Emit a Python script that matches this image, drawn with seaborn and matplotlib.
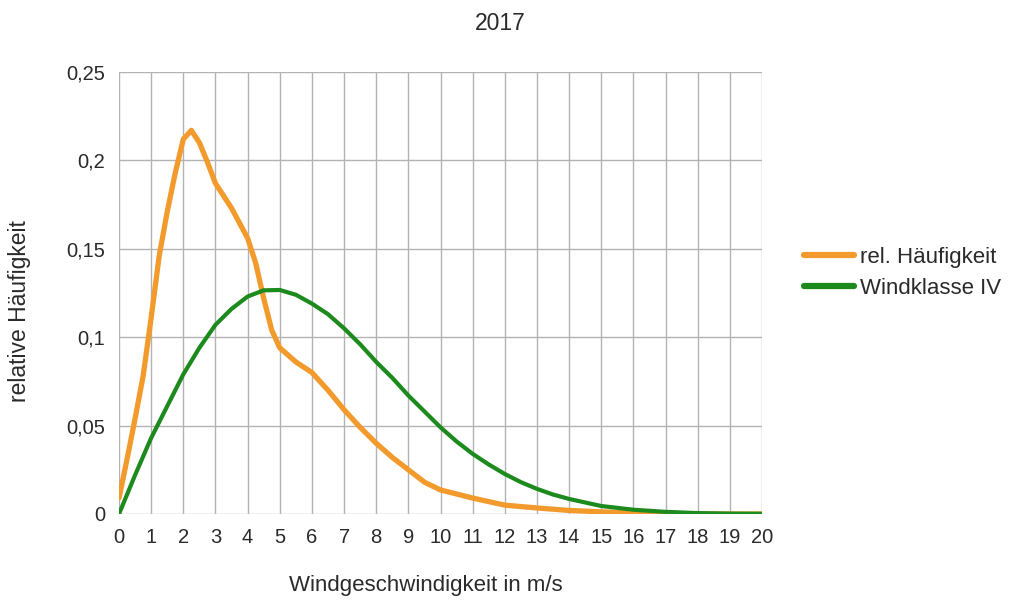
import matplotlib
matplotlib.use("Agg")
import matplotlib.pyplot as plt
import seaborn as sns
import pandas as pd
from matplotlib.ticker import FuncFormatter, MultipleLocator
from matplotlib.lines import Line2D

# ---- data ----
x_rel = [0, 0.25, 0.5, 0.75, 1.0, 1.25, 1.5, 1.75, 2.0, 2.25, 2.5, 2.75, 3.0, 3.5,
         4.0, 4.25, 4.5, 4.75, 5.0, 5.5, 6.0, 6.5, 7.0, 7.5, 8.0, 8.5, 9.0, 9.5,
         10, 11, 12, 13, 14, 15, 16, 17, 18, 19, 20]
y_rel = [0.009, 0.031, 0.054, 0.078, 0.111, 0.146, 0.171, 0.193, 0.212, 0.217, 0.210,
         0.199, 0.187, 0.173, 0.156, 0.142, 0.122, 0.104, 0.094, 0.086, 0.080, 0.070,
         0.059, 0.049, 0.040, 0.032, 0.025, 0.018, 0.0136, 0.009, 0.005, 0.0034,
         0.002, 0.0012, 0.0006, 0.0003, 0.0001, 0.0, 0.0]

x_wk = [0, 0.5, 1, 1.5, 2, 2.5, 3, 3.5, 4, 4.5, 5, 5.5, 6, 6.5, 7, 7.5, 8, 8.5, 9,
        9.5, 10, 10.5, 11, 11.5, 12, 12.5, 13, 13.5, 14, 15, 16, 17, 18, 19, 20]
y_wk = [0.0, 0.022, 0.043, 0.061, 0.079, 0.094, 0.107, 0.116, 0.123, 0.1265, 0.1267,
        0.124, 0.119, 0.113, 0.105, 0.096, 0.086, 0.077, 0.067, 0.058, 0.049, 0.041,
        0.034, 0.028, 0.0226, 0.018, 0.0142, 0.011, 0.0085, 0.0045, 0.0024, 0.0012,
        0.0005, 0.0002, 0.0001]

series_names = ["rel. Häufigkeit", "Windklasse IV"]
colors = ["#f29b2c", "#1c8a1c"]

df = pd.concat([
    pd.DataFrame({"x": x_rel, "y": y_rel, "Serie": series_names[0]}),
    pd.DataFrame({"x": x_wk, "y": y_wk, "Serie": series_names[1]}),
], ignore_index=True)

sns.set_theme(style="white")
plt.rcParams["font.family"] = ["Liberation Sans", "DejaVu Sans"]

fig = plt.figure(figsize=(10.12, 6.01), dpi=100)
ax = fig.add_axes([0.1176, 0.1448, 0.6354, 0.7354])

sns.lineplot(data=df, x="x", y="y", hue="Serie", palette=colors,
             hue_order=series_names, ax=ax, linewidth=3.4, legend=False)
for ln, lw in zip(ax.get_lines(), [3.8, 3.0]):
    ln.set_linewidth(lw)

ax.set_xlim(0, 20)
ax.set_ylim(0, 0.25)
ax.xaxis.set_major_locator(MultipleLocator(1))
ax.yaxis.set_major_locator(MultipleLocator(0.05))
ax.yaxis.set_major_formatter(FuncFormatter(
    lambda v, p: "0" if abs(v) < 1e-9 else (f"{v:.2f}".rstrip("0").replace(".", ","))))
ax.grid(True, color="#b3b3b3", linewidth=1.0)
ax.set_axisbelow(True)
for s in ax.spines.values():
    s.set_visible(False)
ax.tick_params(axis="both", which="major", length=8, width=1.0, color="#b3b3b3",
               labelsize=14.5, labelcolor="#2a2a2a", pad=2, direction="out")
ax.tick_params(axis="x", length=6, pad=4)

fig.text(500 / 1012, 1 - 23 / 601, "2017", fontsize=16.5, color="#2a2a2a",
         ha="center", va="center")
ax.set_xlabel("Windgeschwindigkeit in m/s", fontsize=16, color="#2a2a2a")
ax.xaxis.set_label_coords(0.477, -0.138)
ax.set_ylabel("relative Häufigkeit", fontsize=16.5, color="#2a2a2a")
ax.yaxis.set_label_coords(-0.137, 0.46)

handles = [Line2D([0], [0], color=c, linewidth=4.5) for c in colors]
leg = fig.legend(handles, series_names, loc="center left",
                 bbox_to_anchor=(804 / 1012, 1 - 273 / 601), frameon=False,
                 fontsize=16, borderpad=0, borderaxespad=0,
                 handlelength=2.25, handletextpad=0.25, labelspacing=0.45)
for t in leg.get_texts():
    t.set_color("#2a2a2a")

fig.savefig("out.png", dpi=100)
